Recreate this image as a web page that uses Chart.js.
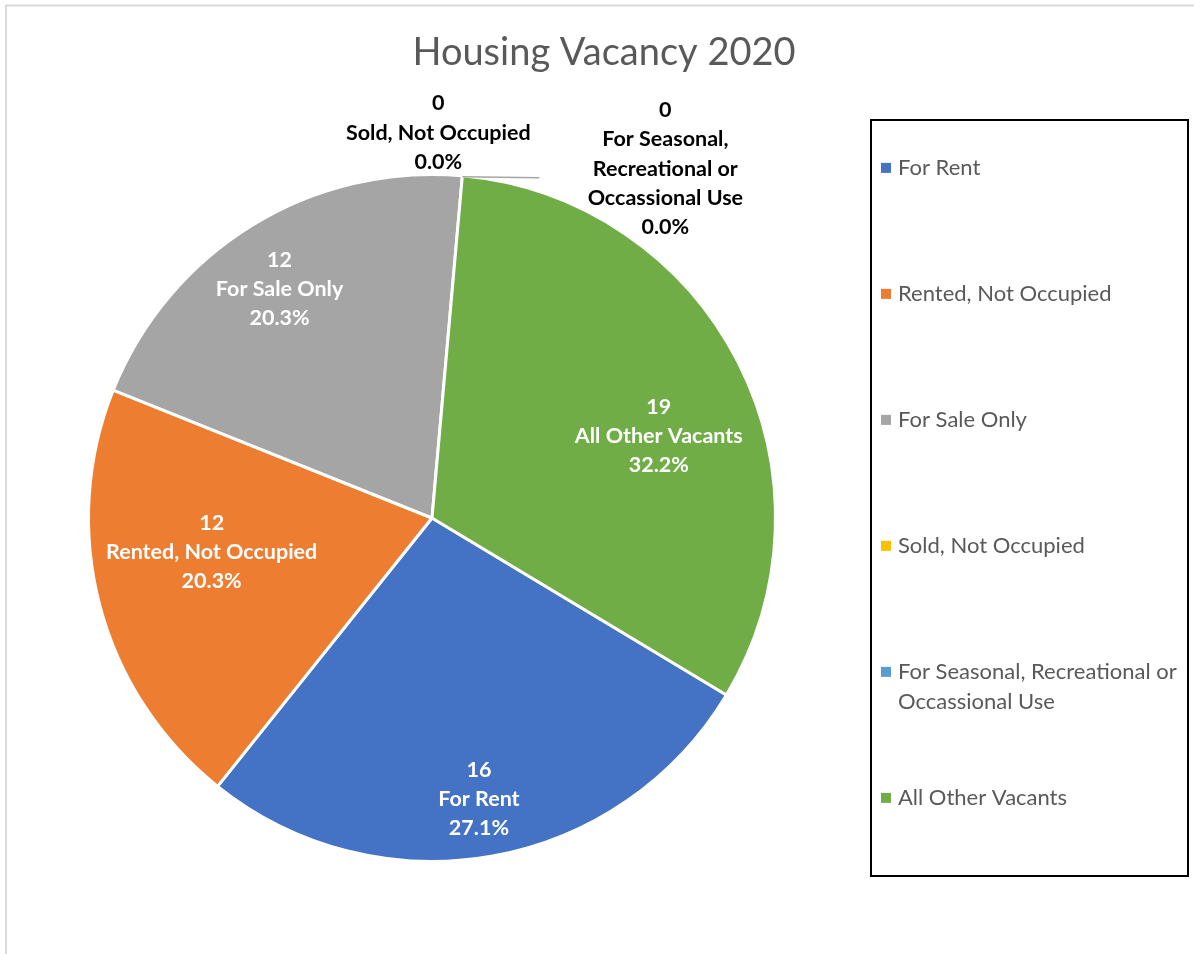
<!DOCTYPE html>
<html>
<head>
<meta charset="utf-8">
<title>Housing Vacancy 2020</title>
<script src="https://cdn.jsdelivr.net/npm/chart.js@4/dist/chart.umd.min.js"></script>
<style>
  html, body { margin: 0; padding: 0; background: #fff; }
  #wrap { width: 1194px; height: 954px; position: relative; }
</style>
</head>
<body>
<div id="wrap"><canvas id="chart"></canvas></div>
<script>
const chartTitle = 'Housing Vacancy 2020';
const categories = [
  'For Rent',
  'Rented, Not Occupied',
  'For Sale Only',
  'Sold, Not Occupied',
  'For Seasonal, Recreational or Occassional Use',
  'All Other Vacants'
];
const vacantUnits = [16, 12, 12, 0, 0, 19];
const sliceColors = ['#4472C4', '#ED7D31', '#A5A5A5', '#FFC000', '#5B9BD5', '#70AD47'];

// where each data label sits: fraction of the radius (+ small turn in degrees)
// for inside labels, offset from the slice edge for the empty slices
const labelSpots = [
  { inside: 0.829, turn: 0.7 },
  { inside: 0.649, turn: 6.0 },
  { inside: 0.801, turn: -2.1 },
  { dx: -24, dy: -43 },
  { dx: 203, dy: -7, leader: 77 },
  { inside: 0.702, turn: 7.1 }
];

const FONT = 'Lato, "Open Sans", sans-serif';

function wrapText(ctx, text, maxWidth) {
  const words = text.split(' ');
  const lines = [];
  let line = '';
  words.forEach((w) => {
    const test = line ? line + ' ' + w : w;
    if (line && ctx.measureText(test).width > maxWidth) {
      lines.push(line);
      line = w;
    } else {
      line = test;
    }
  });
  if (line) lines.push(line);
  return lines;
}

const frame = {
  id: 'frame',
  beforeDraw(chart) {
    const ctx = chart.ctx;
    ctx.save();
    ctx.strokeStyle = '#d9d9d9';
    ctx.lineWidth = 2;
    ctx.strokeRect(6, 5.5, 1300, 1100);
    ctx.fillStyle = '#595959';
    ctx.font = '38px ' + FONT;
    ctx.textAlign = 'center';
    ctx.textBaseline = 'middle';
    ctx.fillText(chartTitle, 604, 53);
    ctx.restore();
  }
};

const sliceLabels = {
  id: 'sliceLabels',
  afterDatasetsDraw(chart) {
    const ctx = chart.ctx;
    const meta = chart.getDatasetMeta(0);
    const total = vacantUnits.reduce((a, b) => a + b, 0);
    const lineH = 29.3;
    ctx.save();
    ctx.font = 'bold 21.5px ' + FONT;
    ctx.textAlign = 'center';
    ctx.textBaseline = 'middle';
    meta.data.forEach((arc, i) => {
      const p = arc.getProps(['x', 'y', 'startAngle', 'endAngle', 'outerRadius'], true);
      const mid = (p.startAngle + p.endAngle) / 2;
      const spot = labelSpots[i];
      const pct = (vacantUnits[i] / total * 100).toFixed(1) + '%';
      let cx, cy, lines;
      if (spot.inside) {
        const a = mid + spot.turn * Math.PI / 180;
        cx = p.x + Math.cos(a) * p.outerRadius * spot.inside;
        cy = p.y + Math.sin(a) * p.outerRadius * spot.inside;
        lines = [String(vacantUnits[i]), categories[i], pct];
        ctx.fillStyle = '#ffffff';
      } else {
        const ex = p.x + Math.cos(mid) * p.outerRadius;
        const ey = p.y + Math.sin(mid) * p.outerRadius;
        cx = ex + spot.dx;
        cy = ey + spot.dy;
        lines = [String(vacantUnits[i])].concat(wrapText(ctx, categories[i], 215), [pct]);
        if (spot.leader) {
          ctx.strokeStyle = '#a6a6a6';
          ctx.lineWidth = 1.5;
          ctx.beginPath();
          ctx.moveTo(ex, ey + 1);
          ctx.lineTo(ex + spot.leader, ey + 2);
          ctx.stroke();
        }
        ctx.fillStyle = '#000000';
      }
      const top = cy - (lines.length - 1) * lineH / 2;
      lines.forEach((t, k) => ctx.fillText(t, cx, top + k * lineH));
    });
    ctx.restore();
  }
};

const boxLegend = {
  id: 'boxLegend',
  afterDraw(chart) {
    const ctx = chart.ctx;
    const box = { left: 871, top: 120, right: 1188, bottom: 876 };
    const step = (box.bottom - box.top) / categories.length;
    ctx.save();
    ctx.strokeStyle = '#000000';
    ctx.lineWidth = 2;
    ctx.strokeRect(box.left, box.top, box.right - box.left, box.bottom - box.top);
    ctx.font = '22px ' + FONT;
    ctx.textBaseline = 'middle';
    ctx.textAlign = 'left';
    categories.forEach((name, i) => {
      const y = box.top + step * 0.38 + step * i;
      ctx.fillStyle = sliceColors[i];
      ctx.fillRect(box.left + 10, y - 5, 10, 10);
      ctx.fillStyle = '#595959';
      wrapText(ctx, name, 295).forEach((t, k) => {
        ctx.fillText(t, box.left + 27, y + k * 30);
      });
    });
    ctx.restore();
  }
};

new Chart(document.getElementById('chart'), {
  type: 'pie',
  data: {
    labels: categories,
    datasets: [{
      data: vacantUnits,
      backgroundColor: sliceColors,
      borderColor: '#ffffff',
      borderWidth: 3
    }]
  },
  options: {
    responsive: true,
    maintainAspectRatio: false,
    animation: false,
    events: [],
    rotation: 121,
    layout: {
      padding: { left: 87, right: 417, top: 173, bottom: 91 }
    },
    plugins: {
      legend: { display: false },
      title: { display: false },
      tooltip: { enabled: false }
    }
  },
  plugins: [frame, sliceLabels, boxLegend]
});
</script>
</body>
</html>
